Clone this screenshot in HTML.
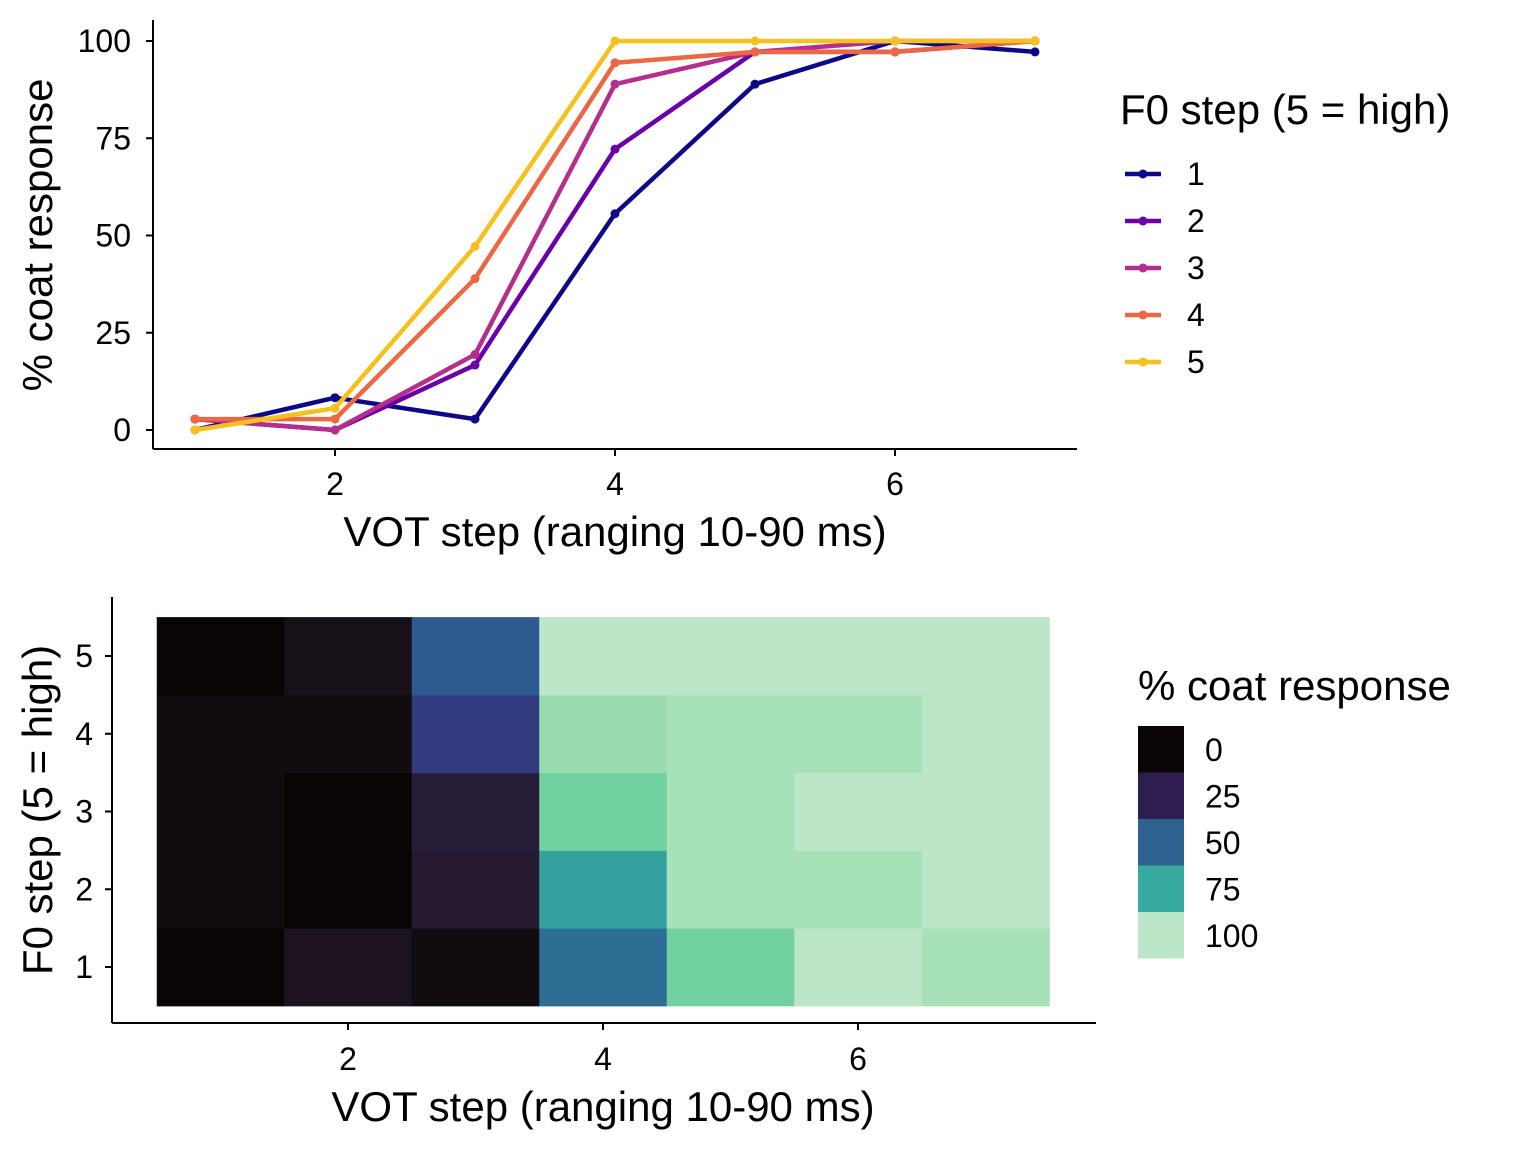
<!DOCTYPE html>
<html><head><meta charset="utf-8"><style>
html,body{margin:0;padding:0;background:#fff;}
svg{display:block;font-family:"Liberation Sans",Arial,sans-serif;}
</style></head><body>
<svg id="c" width="1536" height="1152" viewBox="0 0 1536 1152"></svg>
<script>
// ---- Data ----
const vot = [1,2,3,4,5,6,7];
const f0Steps = [1,2,3,4,5];
const s1 = [0, 8.3, 2.8, 55.6, 88.9, 100, 97.2];
const s2 = [2.8, 0, 16.7, 72.2, 97.2, 97.2, 100];
const s3 = [2.8, 0, 19.4, 88.9, 97.2, 100, 100];
const s4 = [2.8, 2.8, 38.9, 94.4, 97.2, 97.2, 100];
const s5 = [0, 5.6, 47.2, 100, 100, 100, 100];
const seriesColors = ["#0d0887","#6a00a8","#b42e8d","#ec6845","#f6c01f"];
const yTicks = [0,25,50,75,100];
const xTicks = [2,4,6];
const legendVals = [0,25,50,75,100];

const NS="http://www.w3.org/2000/svg";
const svg=document.getElementById('c');
function mk(tag,attrs,parent){const e=document.createElementNS(NS,tag);for(const k in attrs)e.setAttribute(k,attrs[k]);(parent||svg).appendChild(e);return e;}
function txt(s,attrs){const e=mk('text',attrs);e.textContent=s;return e;}
const TICK=32, TITLE=42;

// ---- Top chart ----
const tx=v=>195+(v-1)*140;
const ty=v=>430-v*3.89;
let e;
e=mk('line',{x1:153,y1:20,x2:153,y2:449,stroke:'#000','stroke-width':2});


e=mk('line',{x1:153,y1:449,x2:1077,y2:449,stroke:'#000','stroke-width':2});


yTicks.forEach(v=>{
  mk('line',{x1:146,y1:ty(v),x2:153,y2:ty(v),stroke:'#000','stroke-width':2});
  e=txt(String(v),{x:131,y:ty(v)+11,'text-anchor':'end','font-size':TICK,fill:'#000'});
  
  
});
xTicks.forEach(v=>{
  mk('line',{x1:tx(v),y1:449,x2:tx(v),y2:456,stroke:'#000','stroke-width':2});
  e=txt(String(v),{x:tx(v),y:495,'text-anchor':'middle','font-size':TICK,fill:'#000'});
  
  
});
e=txt('VOT step (ranging 10-90 ms)',{x:615,y:546,'text-anchor':'middle','font-size':TITLE,fill:'#000'});


e=txt('% coat response',{x:0,y:0,transform:'translate(52,235) rotate(-90)','text-anchor':'middle','font-size':TITLE,fill:'#000'});



const allSeries=[s1,s2,s3,s4,s5];
allSeries.forEach((s,i)=>{
  const pts=s.map((v,j)=>tx(vot[j])+','+ty(v)).join(' ');
  e=mk('polyline',{points:pts,fill:'none',stroke:seriesColors[i],'stroke-width':4.5,'stroke-linejoin':'round'});
  
  
  s.forEach((v,j)=>{
    e=mk('circle',{cx:tx(vot[j]),cy:ty(v),r:4.5,fill:seriesColors[i]});
    
    
  });
});
e=txt('F0 step (5 = high)',{x:1120,y:124,'font-size':TITLE,fill:'#000'});


f0Steps.forEach((f,i)=>{
  const y=174+i*47;
  e=mk('line',{x1:1125,y1:y,x2:1161,y2:y,stroke:seriesColors[i],'stroke-width':4.5});
  
  
  mk('circle',{cx:1143,cy:y,r:4.5,fill:seriesColors[i]});
  e=txt(String(f),{x:1187,y:y+11,'font-size':TICK,fill:'#000'});
  
  
});

// ---- Heatmap ----
const hx=v=>348+(v-2)*127.5;
const hy=v=>967-(v-1)*77.75;
const stops=[[0,[11,4,5]],[2.8,[17,12,16]],[8.3,[29,19,32]],[19.4,[39,28,56]],[25,[46,30,80]],[38.9,[50,58,128]],[47.2,[46,90,142]],[55.6,[44,110,148]],[72.2,[54,162,159]],[75,[56,170,160]],[88.9,[114,209,160]],[94.4,[152,220,173]],[97.2,[167,225,183]],[100,[187,230,200]]];
function col(v){
  for(let i=1;i<stops.length;i++){
    if(v<=stops[i][0]){const a=stops[i-1],b=stops[i];const t=(v-a[0])/(b[0]-a[0]);
      const c=a[1].map((x,k)=>Math.round(x+(b[1][k]-x)*t));return 'rgb('+c.join(',')+')';}
  }
  return 'rgb(187,230,200)';
}
allSeries.forEach((s,i)=>{
  s.forEach((v,j)=>{
    const x0=hx(vot[j]-0.5),x1=hx(vot[j]+0.5),y0=hy(f0Steps[i]+0.5),y1=hy(f0Steps[i]-0.5);
    e=mk('rect',{x:x0,y:y0,width:x1-x0+0.5,height:y1-y0+0.5,fill:col(v)});
    
    
  });
});
e=mk('line',{x1:112,y1:597,x2:112,y2:1023,stroke:'#000','stroke-width':2});


e=mk('line',{x1:112,y1:1023,x2:1096,y2:1023,stroke:'#000','stroke-width':2});


f0Steps.forEach(v=>{
  mk('line',{x1:105,y1:hy(v),x2:112,y2:hy(v),stroke:'#000','stroke-width':2});
  e=txt(String(v),{x:93,y:hy(v)+11,'text-anchor':'end','font-size':TICK,fill:'#000'});
  
  
});
xTicks.forEach(v=>{
  mk('line',{x1:hx(v),y1:1023,x2:hx(v),y2:1030,stroke:'#000','stroke-width':2});
  e=txt(String(v),{x:hx(v),y:1070,'text-anchor':'middle','font-size':TICK,fill:'#000'});
  
  
});
e=txt('VOT step (ranging 10-90 ms)',{x:603,y:1121,'text-anchor':'middle','font-size':TITLE,fill:'#000'});


e=txt('F0 step (5 = high)',{x:0,y:0,transform:'translate(52,810) rotate(-90)','text-anchor':'middle','font-size':TITLE,fill:'#000'});


e=txt('% coat response',{x:1138,y:700,'font-size':TITLE,fill:'#000'});


legendVals.forEach((v,i)=>{
  const y=726+i*46.5;
  e=mk('rect',{x:1138,y:y,width:46,height:46.5,fill:col(v)});
  
  
  e=txt(String(v),{x:1205,y:y+35,'font-size':TICK,fill:'#000'});
  
  
});
</script>
</body></html>
